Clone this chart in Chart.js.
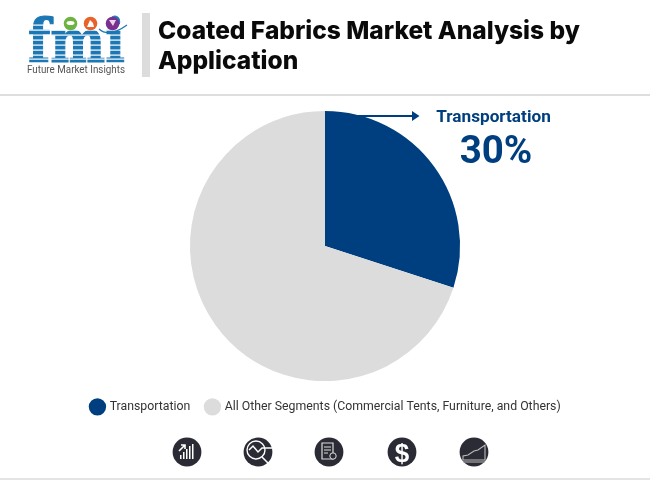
<!DOCTYPE html>
<html><head><meta charset="utf-8">
<script src="https://cdn.jsdelivr.net/npm/chart.js@4"></script>
<style>
html,body{margin:0;padding:0;background:#fff;width:650px;height:480px;overflow:hidden}
#wrap{position:relative;width:650px;height:480px;font-family:Roboto,sans-serif}
canvas{position:absolute;left:0;top:0}
svg{position:absolute;left:0;top:0;pointer-events:none}
.t{position:absolute;white-space:nowrap}
#title{left:158px;top:15px;font-family:Inter,Roboto,sans-serif;font-weight:800;font-size:24.5px;line-height:30px;color:#0a0a0a}
#lab{left:393.5px;width:200px;text-align:center;top:106px;font-weight:700;font-size:17.2px;line-height:20px;color:#003f7f}
#pct{left:396px;width:200px;text-align:center;top:128px;font-weight:700;font-size:38.5px;line-height:44px;color:#003f7f}
</style></head><body>
<div id="wrap">
<canvas id="c" width="650" height="480"></canvas>
<svg width="650" height="480" viewBox="0 0 650 480">
<rect x="142" y="13" width="8" height="64" fill="#dcdcdc"/>
<rect x="0" y="94" width="650" height="2" fill="#dedede"/>
<rect x="0" y="478" width="650" height="2" fill="#e4e4e4"/>
<!-- logo -->
<text x="28" y="62" font-family="DejaVu Serif" font-weight="700" font-size="60" fill="#1c78b4" stroke="#1c78b4" stroke-width="1.2" textLength="97" lengthAdjust="spacingAndGlyphs">fmi</text>
<g fill="#fff">
<rect x="26" y="24.5" width="102" height="1.2"/><rect x="26" y="29.5" width="102" height="1.2"/>
<rect x="26" y="34.5" width="102" height="1.2"/><rect x="26" y="39.5" width="102" height="1.2"/>
<rect x="26" y="44.5" width="102" height="1.2"/><rect x="26" y="49.5" width="102" height="1.2"/>
<rect x="26" y="54.5" width="102" height="1.2"/><rect x="26" y="58.5" width="102" height="1.2"/>
</g>
<circle cx="70.5" cy="23.5" r="6.8" fill="#6cb33f"/><ellipse cx="70.5" cy="23" rx="4" ry="2" fill="#fff"/>
<circle cx="90.5" cy="23.5" r="6.8" fill="#e8622a"/><path d="M87 27l3-7 3 3 1 4z" fill="#fff"/>
<circle cx="112.5" cy="23.5" r="6.8" fill="#7b2f8e"/><path d="M109 20h7l-3 6z" fill="#e9d6ee"/>
<path d="M99 29q10 9 28-4" fill="none" stroke="#1c78b4" stroke-width="1.2"/>
<text x="27" y="72.5" font-family="Roboto" font-size="10.2" fill="#555" textLength="98" lengthAdjust="spacingAndGlyphs">Future Market Insights</text>
<!-- arrow -->
<path d="M345 116H414" stroke="#003f7f" stroke-width="2"/><path d="M412 111l7.5 5-7.5 5z" fill="#003f7f"/>
<!-- icons -->
<g fill="#2b2b35">
<circle cx="187" cy="452" r="14.4"/><circle cx="258" cy="452" r="14.4"/><circle cx="329" cy="452" r="14.4"/>
<circle cx="402" cy="452" r="14.4"/><circle cx="474" cy="452" r="14.4"/>
</g>
<g fill="#fff"><rect x="180" y="455" width="1.5" height="4"/><rect x="183" y="452" width="1.5" height="7"/><rect x="186" y="449" width="1.5" height="10"/><rect x="189" y="446" width="1.5" height="13"/><rect x="192" y="444" width="1.5" height="15"/></g>
<path d="M179 451l6-6M181 445h4v4" fill="none" stroke="#fff" stroke-width="1.6"/>
<circle cx="256" cy="450" r="9" fill="none" stroke="#fff" stroke-width="1.4"/>
<path d="M249 450l4-4 5 6 4-4h10M262 457l7 7" fill="none" stroke="#fff" stroke-width="1.5"/>
<path d="M322 443h11v16h-11z" fill="none" stroke="#ddd" stroke-width="1.2"/><path d="M324 447h7M324 450h7M324 453h4" stroke="#ddd"/><circle cx="333" cy="456" r="3.2" fill="#2b2b35" stroke="#ddd"/>
<text x="402" y="461.5" text-anchor="middle" font-family="Liberation Sans" font-weight="700" font-size="26" fill="#fff">$</text>
<path d="M463 460h22v-15l-7 5-4 1-6 4-5 1zM463 462h22" fill="none" stroke="#bbb" stroke-width="1.1"/>
</svg>
<div class="t" id="title">Coated Fabrics Market Analysis by<br>Application</div>
<div class="t" id="lab">Transportation</div>
<div class="t" id="pct">30%</div>
</div>
<script>
const categories = ["Transportation", "All Other Segments (Commercial Tents, Furniture, and Others)"];
const shares = [30, 70];
const sliceColors = ["#003f7f", "#dcdcdc"];
new Chart(document.getElementById('c'), {
  type: 'pie',
  data: { labels: categories, datasets: [{ data: shares, backgroundColor: sliceColors, borderWidth: 0 }] },
  options: {
    responsive: false, animation: false, devicePixelRatio: 1,
    layout: { padding: { top: 111, bottom: 57, left: 0, right: 0 } },
    plugins: {
      tooltip: { enabled: false },
      legend: { position: 'bottom',
        title: { display: true, text: '', font: { size: 3 }, padding: 0 },
        labels: { usePointStyle: true, pointStyle: 'circle', boxWidth: 18, boxHeight: 18, padding: 16,
                  color: '#333', font: { family: 'Roboto', size: 12.3 } } }
    }
  },
  plugins: [{ id: 'legendNudge', afterLayout(chart) { chart.legend.left += 1; chart.legend.right += 1; } }]
});
</script>
</body></html>
